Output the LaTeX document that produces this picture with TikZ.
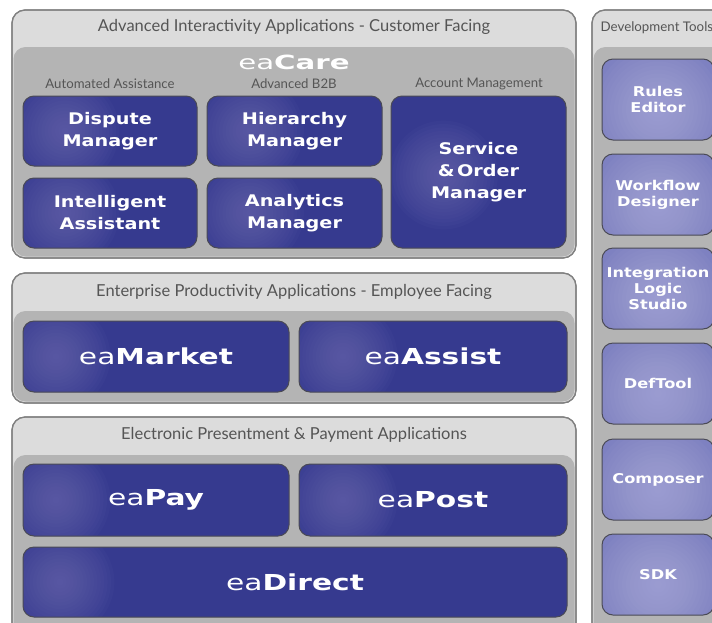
\documentclass[tikz,border=0pt]{standalone}
\usepackage{fontspec}
\setmainfont{Lato}
\newfontfamily\boxfont[FakeStretch=1.2]{DejaVu Sans}
\newfontfamily\bigfont[FakeStretch=1.35]{DejaVu Sans}
\newfontfamily\widefont[FakeStretch=1.5]{DejaVu Sans}
\definecolor{panellight}{HTML}{DCDCDC}
\definecolor{panelborder}{HTML}{808080}
\definecolor{innergray}{HTML}{B4B4B4}
\definecolor{darkblue}{HTML}{363A8F}
\definecolor{glowblue}{HTML}{7774B8}
\definecolor{devblue}{HTML}{7E81C1}
\definecolor{devglow}{HTML}{B4B5E0}
\definecolor{boxborder}{HTML}{4A4A55}
\definecolor{titlegray}{HTML}{555555}
\tikzset{
  panel/.style={draw=panelborder, fill=panellight, line width=1.2pt, rounded corners=13pt},
  panelframe/.style={draw=panelborder, line width=1.2pt, rounded corners=13pt},
  innerpanel/.style={fill=innergray, rounded corners=12pt},
  paneltitle/.style={text=titlegray, font=\fontsize{16.5}{19}\selectfont},
  subhead/.style={text=titlegray, font=\fontsize{13.2}{15}\selectfont},
  glowat/.style 2 args={path picture={
    \foreach \i in {1,...,16}{\fill[glowblue, opacity=0.055]
      ([xshift=#1,yshift=#2]path picture bounding box.center) circle ({\i*3.4pt});}}},
  devglowat/.style={path picture={
    \foreach \i in {1,...,16}{\fill[devglow, opacity=0.06]
      ([yshift=-10pt]path picture bounding box.center) circle ({\i*4pt});}}},
  appbox/.style={draw=boxborder, line width=1pt, rounded corners=11pt, fill=darkblue,
    text=white, align=center, inner sep=0pt,
    font=\boxfont\bfseries\fontsize{16}{22}\selectfont},
  bigbox/.style={appbox, font=\bigfont\fontsize{22}{26}\selectfont},
  devbox/.style={draw=boxborder, line width=1pt, rounded corners=11pt, fill=devblue,
    text=white, align=center, inner sep=0pt,
    minimum width=112pt, minimum height=81pt, devglowat,
    font=\boxfont\bfseries\fontsize{13.5}{16}\selectfont},
}
\begin{document}
\begin{tikzpicture}[x=1pt,y=-1pt]
\useasboundingbox (0,0) rectangle (712,622);
\clip (0,0) rectangle (712,622);
% ---------- panel 1
\draw[panel] (12,10) rectangle (576,258);
\fill[innerpanel] (13.5,47) rectangle (574.5,256.5);
\draw[panelframe] (12,10) rectangle (576,258);
\node[paneltitle] (t1) at (294,27) {Advanced Interactivity Applications - Customer Facing};
\node[text=white, font=\widefont\fontsize{19.5}{22}\selectfont] (eacare) at (294,62) {ea\textbf{Care}};
\node[subhead] (s1) at (110,84) {Automated Assistance};
\node[subhead] (s2) at (294,84) {Advanced B2B};
\node[subhead] (s3) at (479,84) {Account Management};
\node[appbox, glowat={-45pt}{0pt}, minimum width=174pt, minimum height=70pt] (dispute) at (110,131) {Dispute\\Manager};
\node[appbox, glowat={-45pt}{0pt}, minimum width=175pt, minimum height=70pt] (hier) at (294.5,131) {Hierarchy\\Manager};
\node[appbox, glowat={-45pt}{0pt}, minimum width=174pt, minimum height=70pt] (intel) at (110,213) {Intelligent\\Assistant};
\node[appbox, glowat={-45pt}{0pt}, minimum width=175pt, minimum height=70pt] (analytics) at (294.5,213) {Analytics\\Manager};
\node[appbox, glowat={-35pt}{-3pt}, minimum width=175pt, minimum height=152pt] (service) at (478.5,172) {Service\\\&\,Order\\Manager};
% ---------- panel 2
\draw[panel] (12,273) rectangle (576,403);
\fill[innerpanel] (13.5,311) rectangle (574.5,401.5);
\draw[panelframe] (12,273) rectangle (576,403);
\node[paneltitle] (t2) at (294,292) {Enterprise Productivity Applications - Employee Facing};
\node[bigbox, glowat={-100pt}{0pt}, minimum width=266pt, minimum height=71pt] (market) at (156,356.5) {ea\textbf{Market}};
\node[bigbox, glowat={-90pt}{0pt}, minimum width=268pt, minimum height=71pt] (assist) at (433,356.5) {ea\textbf{Assist}};
% ---------- panel 3
\draw[panel] (12,417) rectangle (576,640);
\fill[innerpanel] (13.5,455) rectangle (574.5,638);
\draw[panelframe] (12,417) rectangle (576,640);
\node[paneltitle] (t3) at (294,435) {Electronic Presentment \& Payment Applications};
\node[bigbox, glowat={-100pt}{0pt}, minimum width=266pt, minimum height=72pt] (pay) at (156,500) {ea\textbf{Pay}};
\node[bigbox, glowat={-90pt}{0pt}, minimum width=268pt, minimum height=72pt] (post) at (433,500) {ea\textbf{Post}};
\node[bigbox, glowat={-235pt}{0pt}, minimum width=544pt, minimum height=70pt] (direct) at (295,582) {ea\textbf{Direct}};
% ---------- development tools
\draw[panel] (592,10) rectangle (740,640);
\fill[innerpanel] (593.5,47) rectangle (738.5,638);
\draw[panelframe] (592,10) rectangle (740,640);
\node[paneltitle, anchor=west, inner sep=0pt, font=\fontsize{13.3}{16}\selectfont] (t4) at (600.5,28) {Development Tools};
\node[devbox] (rules) at (658,99.5) {Rules\\Editor};
\node[devbox] (workflow) at (658,194.5) {Workflow\\Designer};
\node[devbox] (ils) at (658,288.5) {Integration\\Logic\\Studio};
\node[devbox] (deftool) at (658,383.5) {DefTool};
\node[devbox] (composer) at (658,479.5) {Composer};
\node[devbox] (sdk) at (658,574.5) {SDK};
\end{tikzpicture}
\end{document}
